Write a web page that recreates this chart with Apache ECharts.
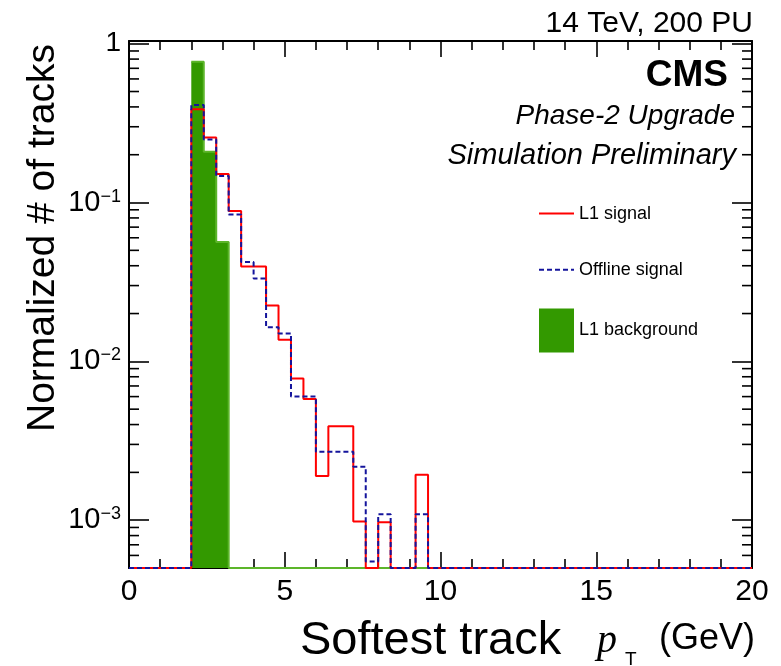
<!DOCTYPE html>
<html>
<head>
<meta charset="utf-8">
<script src="https://cdn.jsdelivr.net/npm/echarts@6/dist/echarts.min.js"></script>
<style>
html,body{margin:0;padding:0;background:#fff;}
#chart{width:781px;height:666px;}
</style>
</head>
<body>
<div id="chart"></div>
<script>
// ---- data ----
// histogram bins: 50 bins of width 0.4 GeV from 0 to 20 (low edges)
const binLowEdges = [0.0,0.4,0.8,1.2,1.6,2.0,2.4,2.8,3.2,3.6,4.0,4.4,4.8,5.2,5.6,6.0,6.4,6.8,7.2,7.6,
  8.0,8.4,8.8,9.2,9.6,10.0,10.4,10.8,11.2,11.6,12.0,12.4,12.8,13.2,13.6,14.0,14.4,14.8,15.2,15.6,
  16.0,16.4,16.8,17.2,17.6,18.0,18.4,18.8,19.2,19.6];
const xMaxEdge = 20;
const l1Signal = [0,0,0,0,0,0.386,0.257,0.151,0.0885,0.0396,0.0396,0.0225,0.0137,0.0078,0.0058,0.0019,0.0039,0.0039,0.00098,0,
  0.00097,0,0,0.00193,0,0,0,0,0,0,0,0,0,0,0,0,0,0,0,0,
  0,0,0,0,0,0,0,0,0,0];
const offlineSignal = [0,0,0,0,0,0.411,0.249,0.147,0.084,0.0422,0.0332,0.0164,0.0150,0.0060,0.0060,0.0027,0.0027,0.0027,0.00217,0.00055,
  0.00109,0,0,0.00109,0,0,0,0,0,0,0,0,0,0,0,0,0,0,0,0,
  0,0,0,0,0,0,0,0,0,0];
// null = not drawn, 0 = drawn at the bottom of the frame
const l1Background = [null,null,null,null,null,0.77,0.209,0.0564,0,0,0,0,0,0,0,0,0,0,0,0,
  0,0,0,0,null,null,null,null,null,null,null,null,null,null,null,null,null,null,null,null,
  null,null,null,null,null,null,null,null,null,null];
const seriesNames = ['L1 signal','Offline signal','L1 background'];
const xTickLabels = ['0','5','10','15','20'];
const yMin = 0.0005, yMax = 1.04;
const yMinorTicks = [0.0006,0.0007,0.0008,0.0009,
  0.002,0.003,0.004,0.005,0.006,0.007,0.008,0.009,
  0.02,0.03,0.04,0.05,0.06,0.07,0.08,0.09,
  0.2,0.3,0.4,0.5,0.6,0.7,0.8,0.9];

// ---- build step data ----
function stepData(vals){
  const out = [];
  for (let i = 0; i < vals.length; i++) {
    const v = vals[i];
    if (v === null) {
      if (i > 0 && vals[i-1] !== null) out.push([binLowEdges[i], Math.max(vals[i-1], yMin)]);
      out.push([binLowEdges[i], '-']);
    } else {
      out.push([binLowEdges[i], Math.max(v, yMin)]);
    }
  }
  const last = vals[vals.length-1];
  out.push([xMaxEdge, last === null ? '-' : Math.max(last, yMin)]);
  return out;
}

const FONT = '"Liberation Sans", Arial, Helvetica, sans-serif';
const chart = echarts.init(document.getElementById('chart'));

const xAxisCommon = {
  type: 'value', min: 0, max: 20, interval: 5,
  axisLine: {show: true, onZero: false, lineStyle: {color: '#000', width: 2}},
  axisTick: {show: true, inside: true, length: 16, lineStyle: {color: '#000', width: 1.6}},
  minorTick: {show: true, splitNumber: 5, length: 9, lineStyle: {color: '#000', width: 1.6}},
  splitLine: {show: false}, minorSplitLine: {show: false}
};
const yAxisCommon = {
  type: 'log', logBase: 10, min: yMin, max: yMax,
  axisLine: {show: true, onZero: false, lineStyle: {color: '#000', width: 2}},
  axisTick: {show: true, inside: true, length: 20, lineStyle: {color: '#000', width: 1.6}},
  minorTick: {show: false},
  splitLine: {show: false}
};

function yLabel(v){
  const e = Math.round(Math.log10(v));
  if (e === 0) return '1';
  return '{b|10}{s|\u2212' + (-e) + '}';
}

const option = {
  animation: false,
  backgroundColor: '#fff',
  grid: {left: 129, top: 41, right: 29, bottom: 98, containLabel: false},
  xAxis: [
    Object.assign({}, xAxisCommon, {
      position: 'bottom',
      axisLabel: {show: true, margin: 9, fontSize: 30, color: '#000', fontFamily: FONT,
        formatter: v => xTickLabels[Math.round(v/5)]}
    }),
    Object.assign({}, xAxisCommon, {position: 'top', axisLabel: {show: false}})
  ],
  yAxis: [
    Object.assign({}, yAxisCommon, {
      position: 'left',
      axisLabel: {show: true, margin: 8, fontSize: 28, color: '#000', fontFamily: FONT,
        showMinLabel: false, showMaxLabel: false,
        formatter: yLabel,
        rich: {
          b: {fontSize: 29, fontFamily: FONT, color: '#000', lineHeight: 30},
          s: {fontSize: 18, fontFamily: FONT, color: '#000', verticalAlign: 'top', lineHeight: 18}
        }}
    }),
    Object.assign({}, yAxisCommon, {position: 'right', axisLabel: {show: false}})
  ],
  legend: {
    show: true, orient: 'vertical', left: 533, top: 191,
    itemWidth: 35, itemHeight: 44, itemGap: 21, selectedMode: false,
    textStyle: {fontSize: 18, color: '#000', fontFamily: FONT},
    data: [
      {name: seriesNames[0], itemStyle: {opacity: 0}},
      {name: seriesNames[1], itemStyle: {opacity: 0}},
      {name: seriesNames[2], icon: 'rect'}
    ]
  },
  series: [
    {
      name: seriesNames[2], type: 'line', step: 'end', symbol: 'none',
      data: stepData(l1Background),
      color: '#339900',
      itemStyle: {color: '#339900'},
      lineStyle: {color: '#5cb52a', width: 2},
      areaStyle: {color: '#339900', opacity: 1, origin: 'start'},
      z: 2
    },
    {
      name: seriesNames[0], type: 'line', step: 'end', symbol: 'none',
      data: stepData(l1Signal),
      color: '#ff0000',
      lineStyle: {color: '#ff0000', width: 2},
      z: 3
    },
    {
      name: seriesNames[1], type: 'line', step: 'end', symbol: 'none',
      data: stepData(offlineSignal),
      color: '#14149c',
      lineStyle: {color: '#14149c', width: 2, type: [5, 3]},
      z: 4
    },
    {
      name: 'minorTicks', type: 'custom', xAxisIndex: 0, yAxisIndex: 0,
      data: yMinorTicks.map(v => [0, v]),
      clip: false, silent: true, z: 5,
      renderItem: function(params, api){
        const v = api.value(1);
        const pL = api.coord([0, v]);
        const pR = api.coord([20, v]);
        return {type: 'group', children: [
          {type: 'line', shape: {x1: pL[0], y1: pL[1], x2: pL[0] + 10, y2: pL[1]}, style: {stroke: '#000', lineWidth: 1.6}},
          {type: 'line', shape: {x1: pR[0] - 10, y1: pR[1], x2: pR[0], y2: pR[1]}, style: {stroke: '#000', lineWidth: 1.6}}
        ]};
      }
    }
  ],
  graphic: [
    {type: 'text', x: 753, y: 24, style: {text: '14 TeV, 200 PU', fontSize: 30, fontFamily: FONT, fill: '#000', align: 'right', verticalAlign: 'middle'}},
    {type: 'text', x: 728, y: 76, style: {text: 'CMS', fontSize: 37, fontWeight: 'bold', fontFamily: FONT, fill: '#000', align: 'right', verticalAlign: 'middle'}},
    {type: 'text', x: 735, y: 116, style: {text: 'Phase-2 Upgrade', fontSize: 28, fontStyle: 'italic', fontFamily: FONT, fill: '#000', align: 'right', verticalAlign: 'middle'}},
    {type: 'text', x: 736, y: 156, style: {text: 'Simulation Preliminary', fontSize: 29, fontStyle: 'italic', fontFamily: FONT, fill: '#000', align: 'right', verticalAlign: 'middle'}},
    {type: 'text', x: 43, y: 238, rotation: Math.PI/2, style: {text: 'Normalized # of tracks', fontSize: 39, fontFamily: FONT, fill: '#000', align: 'center', verticalAlign: 'middle'}},
    {type: 'text', x: 300, y: 641, style: {text: 'Softest track', fontSize: 47, fontFamily: FONT, fill: '#000', align: 'left', verticalAlign: 'middle'}},
    {type: 'text', x: 597, y: 641, style: {text: 'p', fontSize: 40, fontStyle: 'italic', fontFamily: '"Liberation Serif", "Times New Roman", serif', fill: '#000', align: 'left', verticalAlign: 'middle'}},
    {type: 'text', x: 625, y: 660, style: {text: 'T', fontSize: 19, fontFamily: FONT, fill: '#000', align: 'left', verticalAlign: 'middle'}},
    {type: 'text', x: 755, y: 639, style: {text: '(GeV)', fontSize: 36, fontFamily: FONT, fill: '#000', align: 'right', verticalAlign: 'middle'}}
  ]
};
chart.setOption(option);
</script>
</body>
</html>
